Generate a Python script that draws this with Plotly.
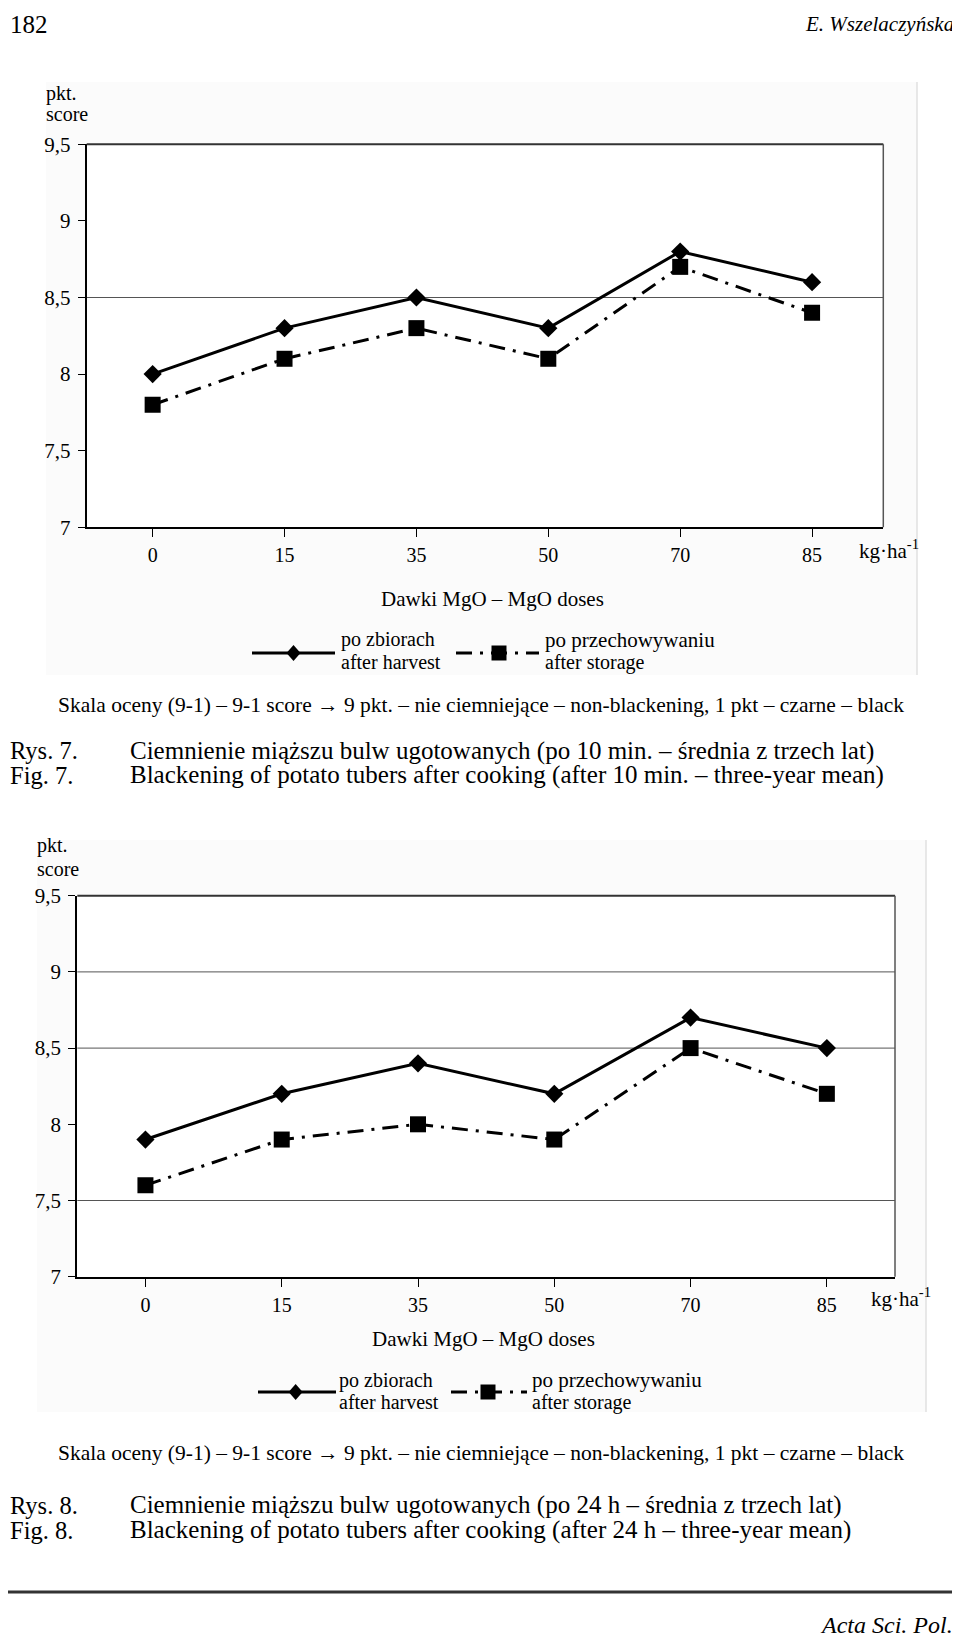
import plotly.graph_objects as go

# ---------------- data ----------------
doses = ["0", "15", "35", "50", "70", "85"]
harvest_10min = [8.0, 8.3, 8.5, 8.3, 8.8, 8.6]
storage_10min = [7.8, 8.1, 8.3, 8.1, 8.7, 8.4]
harvest_24h = [7.9, 8.2, 8.4, 8.2, 8.7, 8.5]
storage_24h = [7.6, 7.9, 8.0, 7.9, 8.5, 8.2]
y_tickvals = [7, 7.5, 8, 8.5, 9, 9.5]
y_ticktext = ["7", "7,5", "8", "8,5", "9", "9,5"]
grid_fig7 = [8.5]
grid_fig8 = [9, 8.5, 7.5]

OFF = 8  # default body margin of the html page
W, H = 960, 1638
FONT = "Liberation Serif, Times New Roman, serif"


def px(x):
    return (x - OFF) / W


def py(y):
    return 1 - (y - OFF) / H


fig = go.Figure()

# ---------------- traces ----------------
DASH = "16px,8px,3px,8px"
for xa, ya, h, s in [("x", "y", harvest_10min, storage_10min),
                     ("x2", "y2", harvest_24h, storage_24h)]:
    fig.add_trace(go.Scatter(x=doses, y=h, xaxis=xa, yaxis=ya, mode="lines+markers",
                             line=dict(color="black", width=3),
                             marker=dict(symbol="diamond", size=14, color="black"),
                             showlegend=False))
    fig.add_trace(go.Scatter(x=doses, y=s, xaxis=xa, yaxis=ya, mode="lines+markers",
                             line=dict(color="black", width=3, dash=DASH),
                             marker=dict(symbol="square", size=16, color="black"),
                             showlegend=False))

# ---------------- axes ----------------
panels = {
    1: dict(l=86.7, r=883.3, t=144.3, b=527.3, xr=5.54),
    2: dict(l=77.3, r=895.0, t=895.7, b=1276.7, xr=5.5),
}
axis_common_x = dict(type="category", showline=True, linecolor="black", linewidth=2,
                     ticks="outside", ticklen=8, tickcolor="black", tickwidth=1,
                     showgrid=False, zeroline=False, ticklabelstandoff=1,
                     tickfont=dict(family=FONT, size=20, color="black"))
axis_common_y = dict(showline=True, linecolor="black", linewidth=2,
                     ticks="outside", ticklen=7, tickcolor="black", tickwidth=1,
                     showgrid=False, zeroline=False, range=[7, 9.5],
                     tickvals=y_tickvals, ticktext=y_ticktext, ticklabelstandoff=3,
                     tickfont=dict(family=FONT, size=21, color="black"))
for i, p in panels.items():
    xd = [px(p["l"]), px(p["r"])]
    yd = [py(p["b"]), py(p["t"])]
    sx = "" if i == 1 else str(i)
    fig.update_layout(**{
        "xaxis" + sx: dict(domain=xd, anchor="y" + sx, range=[-0.5, p["xr"]], **axis_common_x),
        "yaxis" + sx: dict(domain=yd, anchor="x" + sx, **axis_common_y),
    })

shapes = []
for (l, r, t, b, edge), p in zip([(46, 917, 82, 675, 917), (37, 926, 840, 1412, 926)], panels.values()):
    shapes.append(dict(type="rect", xref="paper", yref="paper", x0=px(l), x1=px(r), y0=py(b), y1=py(t),
                       fillcolor="#fbfbfb", line=dict(width=0), layer="below"))
    shapes.append(dict(type="rect", xref="paper", yref="paper", x0=px(p["l"]), x1=px(p["r"]),
                       y0=py(p["b"]), y1=py(p["t"]), fillcolor="white", line=dict(width=0), layer="below"))
    shapes.append(dict(type="line", xref="paper", yref="paper", x0=px(edge), x1=px(edge), y0=py(b), y1=py(t),
                       line=dict(color="#e0e0e0", width=1.5), layer="below"))

for xr_, yr_, grid in [("x", "y", grid_fig7), ("x2", "y2", grid_fig8)]:
    for g in grid:
        shapes.append(dict(type="line", xref=xr_ + " domain", yref=yr_, x0=0, x1=1, y0=g, y1=g,
                           line=dict(color="#555555", width=1), layer="below"))
    shapes.append(dict(type="line", xref=xr_ + " domain", yref=yr_ + " domain", x0=0, x1=1, y0=1, y1=1,
                       line=dict(color="#333333", width=2)))
    shapes.append(dict(type="line", xref=xr_ + " domain", yref=yr_ + " domain", x0=1, x1=1, y0=0, y1=1,
                       line=dict(color="#555555", width=1.5)))


def legend_keys(sl0, sl1, dm, dl0, dl1, sq, y):
    out = []
    out.append(dict(type="line", xref="paper", yref="paper", x0=px(sl0), x1=px(sl1), y0=py(y), y1=py(y),
                    line=dict(color="black", width=3)))
    d = 8
    out.append(dict(type="path", xref="paper", yref="paper",
                    path=f"M {px(dm)},{py(y - d)} L {px(dm + 7)},{py(y)} L {px(dm)},{py(y + d)} L {px(dm - 7)},{py(y)} Z",
                    fillcolor="black", line=dict(color="black", width=0)))
    out.append(dict(type="line", xref="paper", yref="paper", x0=px(dl0), x1=px(dl1), y0=py(y), y1=py(y),
                    line=dict(color="black", width=3, dash=DASH)))
    q = 7.5
    out.append(dict(type="rect", xref="paper", yref="paper", x0=px(sq - q), x1=px(sq + q), y0=py(y + q), y1=py(y - q),
                    fillcolor="black", line=dict(width=0)))
    return out


shapes += legend_keys(252, 335, 293.5, 456, 539, 499, 653)
shapes += legend_keys(258, 336, 295.6, 451, 527, 488, 1392)

shapes.append(dict(type="line", xref="paper", yref="paper", x0=px(0), x1=px(968), y0=py(1592), y1=py(1592),
                   line=dict(color="#333333", width=3)))

annotations = []


def txt(x, y, s, size=19, anchor="left", italic=False):
    annotations.append(dict(xref="paper", yref="paper", x=px(x), y=py(y), text=s, showarrow=False,
                            xanchor=anchor, yanchor="middle", borderpad=0,
                            font=dict(family=FONT, size=size, color="black",
                                      style="italic" if italic else "normal")))


SKALA = "Skala oceny (9-1) – 9-1 score → 9 pkt. – nie ciemniejące – non-blackening, 1 pkt – czarne – black"

# page header
txt(9, 25, "182", size=25)
txt(955, 24, "E. Wszelaczyńska", size=21, anchor="right", italic=True)

# figure 7 texts
txt(45, 93, "pkt.", size=20)
txt(45, 114, "score", size=20)
txt(858, 550, "kg·ha<sup>-1</sup>", size=21)
txt(492, 599, "Dawki MgO – MgO doses", size=21, anchor="center")
txt(340, 640, "po zbiorach", size=20)
txt(340, 662, "after harvest", size=20)
txt(544, 640, "po przechowywaniu", size=21)
txt(544, 662, "after storage", size=20)
txt(481, 705, SKALA, size=21.5, anchor="center")
txt(9, 751, "Rys. 7.", size=24.5)
txt(129, 751, "Ciemnienie miąższu bulw ugotowanych (po 10 min. – średnia z trzech lat)", size=25)
txt(9, 775, "Fig. 7.", size=24.5)
txt(129, 775, "Blackening of potato tubers after cooking (after 10 min. – three-year mean)", size=25)

# figure 8 texts
txt(36, 846, "pkt.", size=20)
txt(36, 869, "score", size=20)
txt(870, 1297, "kg·ha<sup>-1</sup>", size=21)
txt(483, 1339, "Dawki MgO – MgO doses", size=21, anchor="center")
txt(338, 1380, "po zbiorach", size=20)
txt(338, 1402, "after harvest", size=20)
txt(531, 1380, "po przechowywaniu", size=21)
txt(531, 1402, "after storage", size=20)
txt(481, 1453, SKALA, size=21.5, anchor="center")
txt(9, 1505, "Rys. 8.", size=24.5)
txt(129, 1505, "Ciemnienie miąższu bulw ugotowanych (po 24 h – średnia z trzech lat)", size=25)
txt(9, 1530, "Fig. 8.", size=24.5)
txt(129, 1530, "Blackening of potato tubers after cooking (after 24 h – three-year mean)", size=25)

# footer
txt(954, 1625, "Acta Sci. Pol.", size=24, anchor="right", italic=True)

fig.update_layout(width=W, height=H, margin=dict(l=0, r=0, t=0, b=0, autoexpand=False),
                  paper_bgcolor="white", plot_bgcolor="white",
                  shapes=shapes, annotations=annotations, showlegend=False,
                  font=dict(family=FONT, color="black"))

fig.write_html("out.html")
